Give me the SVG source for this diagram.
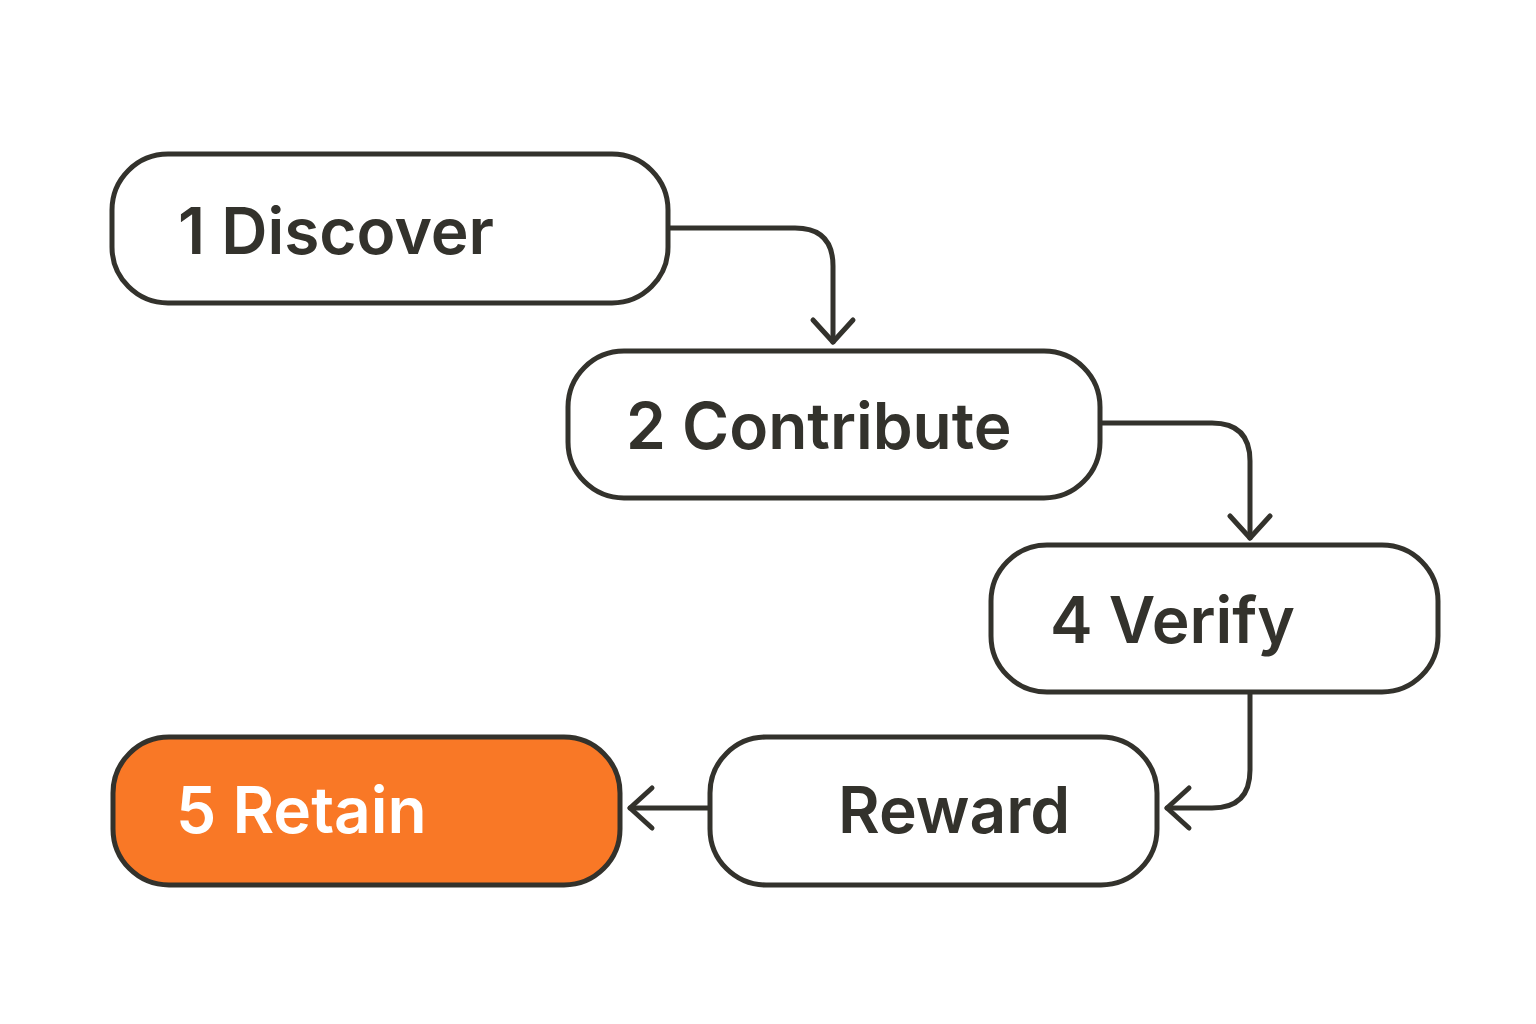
<svg xmlns="http://www.w3.org/2000/svg" width="1536" height="1024" viewBox="0 0 1536 1024">
<defs>
<marker id="ah" markerWidth="20" markerHeight="20" refX="16" refY="10" orient="auto" markerUnits="userSpaceOnUse" viewBox="0 0 20 20">
<path d="M2,-2 L16,10 L2,22" fill="none" stroke="#33322c" stroke-width="5" stroke-linecap="round" stroke-linejoin="round" transform="scale(1)"/>
</marker>
<style>
.n{fill:#fff;stroke:#33322c;stroke-width:5}
.t{font-family:Inter,"Liberation Sans",sans-serif;font-size:64px;font-weight:600;fill:#33322c}
.c{fill:none;stroke:#33322c;stroke-width:5;stroke-linecap:round;stroke-linejoin:round}
</style>
</defs>
<rect width="1536" height="1024" fill="#fff"/>
<g id="connectors">
<path class="c" d="M668,228 H795 Q833,228 833,266 V342"/>
<path class="c" d="M813,320 L833,342 L853,320"/>
<path class="c" d="M1100,423 H1212 Q1250,423 1250,461 V538"/>
<path class="c" d="M1230,516 L1250,538 L1270,516"/>
<path class="c" d="M1250,692 V770 Q1250,808 1212,808 H1167"/>
<path class="c" d="M1189,788 L1167,808 L1189,828"/>
<path class="c" d="M710,808 H630"/>
<path class="c" d="M652,788 L630,808 L652,828"/>
</g>
<g id="n1"><rect class="n" x="112" y="154" width="556" height="149" rx="56"/><text class="t" x="178" y="254">1  Discover</text></g>
<g id="n2"><rect class="n" x="568" y="351" width="532" height="147" rx="56"/><text class="t" x="626" y="449">2  Contribute</text></g>
<g id="n4"><rect class="n" x="991" y="545" width="447" height="147" rx="56"/><text class="t" x="1050" y="643">4  Verify</text></g>
<g id="nr"><rect class="n" x="710" y="737" width="447" height="148" rx="56"/><text class="t" x="838" y="833">Reward</text></g>
<g id="n5"><rect class="n" x="113" y="737" width="507" height="148" rx="56" style="fill:#f97826"/><text class="t" x="176" y="833" style="fill:#fff">5  Retain</text></g>
</svg>
